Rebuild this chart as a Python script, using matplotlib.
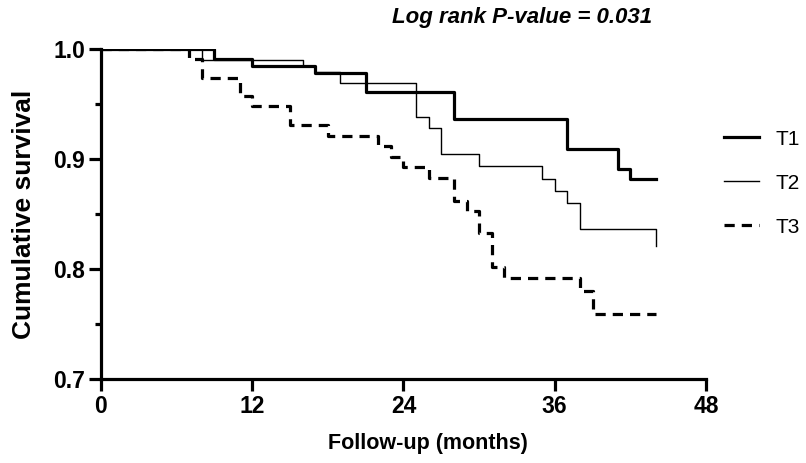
import numpy as np
import matplotlib
matplotlib.use("Agg")
import matplotlib.pyplot as plt
from matplotlib.ticker import MultipleLocator

plt.rcParams['font.family'] = ['Liberation Sans', 'DejaVu Sans']

# Kaplan-Meier step data (months, cumulative survival)
t1_time = [0, 9, 12, 17, 21, 28, 37, 41, 42, 44]
t1_surv = [1.0, 0.991, 0.985, 0.978, 0.961, 0.936, 0.909, 0.891, 0.882, 0.882]

t2_time = [0, 8, 16, 17, 19, 25, 26, 27, 30, 35, 36, 37, 38, 44]
t2_surv = [1.0, 0.990, 0.985, 0.979, 0.969, 0.938, 0.928, 0.905, 0.894,
           0.882, 0.871, 0.860, 0.836, 0.821]

t3_time = [0, 7, 8, 11, 12, 15, 18, 22, 23, 24, 26, 28, 29, 30, 31, 32, 38, 39, 44]
t3_surv = [1.0, 0.991, 0.974, 0.957, 0.948, 0.931, 0.921, 0.912, 0.902, 0.893,
           0.883, 0.862, 0.853, 0.833, 0.802, 0.792, 0.780, 0.759, 0.759]

x_ticks = [0, 12, 24, 36, 48]
y_ticks = [0.7, 0.8, 0.9, 1.0]

fig = plt.figure(figsize=(8.06, 4.63), dpi=100)
ax = fig.add_axes([0.1253, 0.1814, 0.7506, 0.7127])

ax.step(t1_time, t1_surv, where='post', color='black', lw=2.3, label='T1')
ax.step(t2_time, t2_surv, where='post', color='black', lw=1.0, label='T2')
ax.step(t3_time, t3_surv, where='post', color='black', lw=2.3,
        linestyle=(0, (3.2, 2.2)), label='T3')

ax.set_xlim(0, 48)
ax.set_ylim(0.7, 1.0)
ax.set_xticks(x_ticks)
ax.set_yticks(y_ticks)
ax.set_yticklabels([f'{v:.1f}' for v in y_ticks])
ax.yaxis.set_minor_locator(MultipleLocator(0.05))

for s in ['top', 'right']:
    ax.spines[s].set_visible(False)
for s in ['left', 'bottom']:
    ax.spines[s].set_linewidth(2.3)

ax.tick_params(which='major', direction='out', length=8.5, width=2.3,
               labelsize=16.5, pad=3)
ax.tick_params(which='minor', direction='out', length=4.5, width=2.3)
for lab in ax.get_xticklabels() + ax.get_yticklabels():
    lab.set_fontweight('bold')

ax.set_xlabel('Follow-up (months)', fontsize=15.5, fontweight='bold')
ax.xaxis.set_label_coords(0.54, -0.165)
ax.set_ylabel('Cumulative survival', fontsize=19, fontweight='bold')
ax.yaxis.set_label_coords(-0.108, 0.5)

fig.text(0.648, 0.962, 'Log rank P-value = 0.031', fontsize=16,
         fontweight='bold', fontstyle='italic', ha='center', va='center')

ax.legend(loc='center left', bbox_to_anchor=(1.0, 0.594), frameon=False,
          fontsize=15, handlelength=1.7, labelspacing=1.2, handletextpad=0.8,
          borderaxespad=0.45)

plt.savefig('out.png', dpi=100)
